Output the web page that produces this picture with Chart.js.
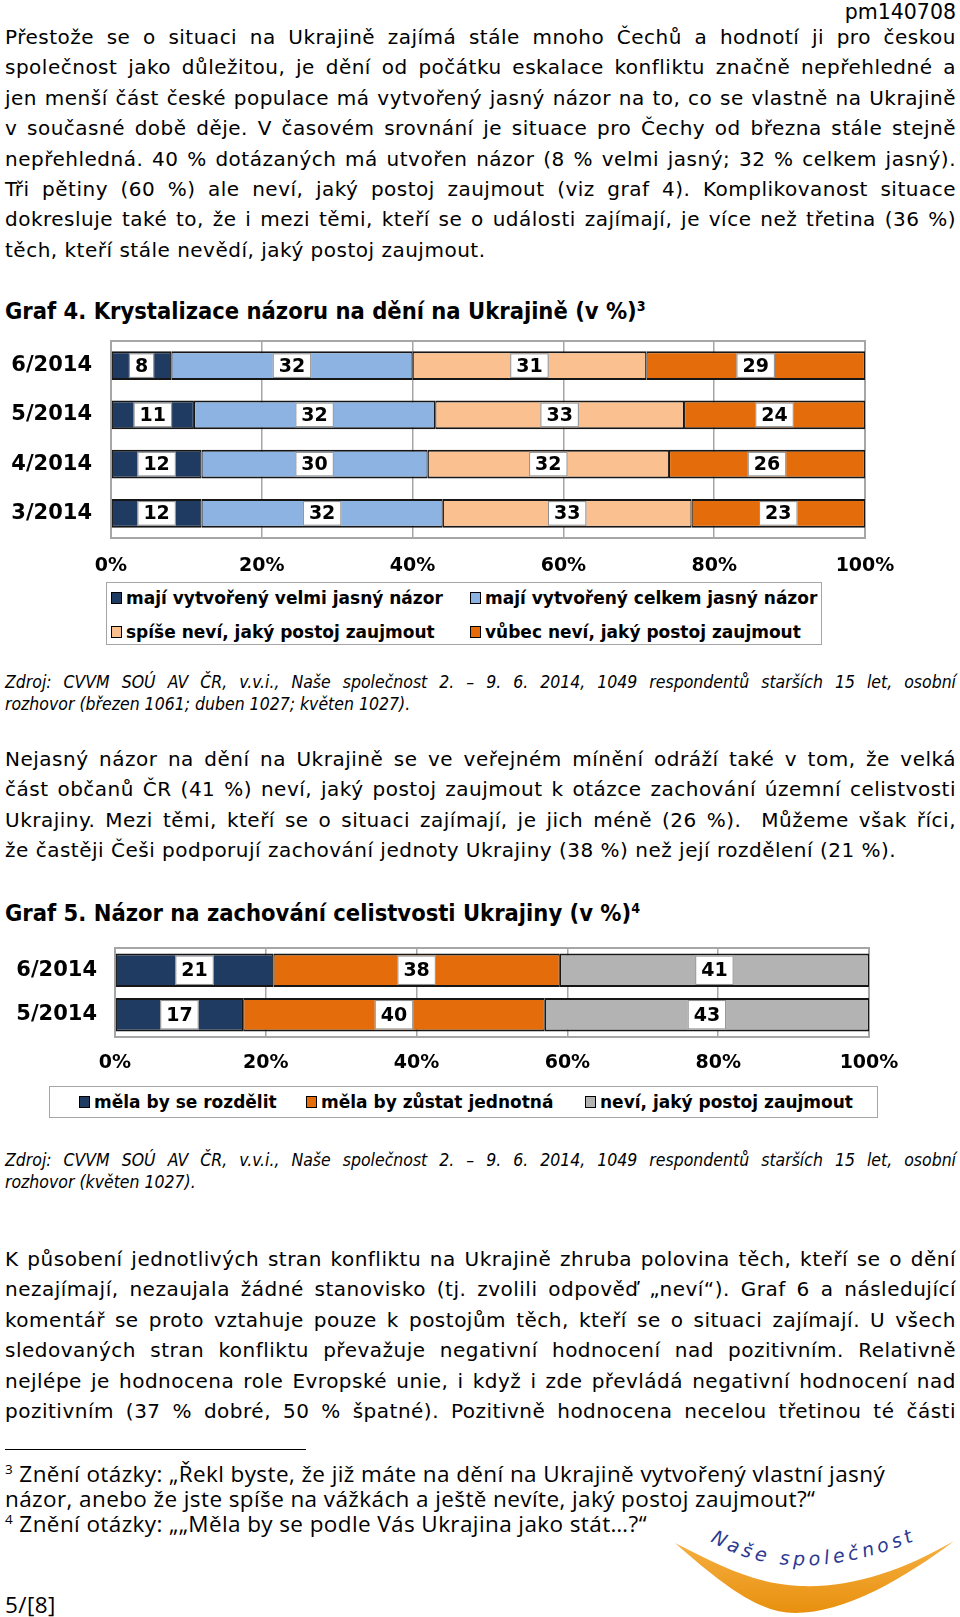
<!DOCTYPE html>
<html lang="cs">
<head>
<meta charset="utf-8">
<script src="https://cdn.jsdelivr.net/npm/chart.js@4.4.1/dist/chart.umd.min.js"></script>
<style>
  body { margin: 0; width: 960px; height: 1617px; position: relative; overflow: hidden; background: #fff; color: #000; font-family: "DejaVu Sans", Verdana, sans-serif; }
  .abs { position: absolute; }
  .txt { left: 5px; width: 951px; font-size: 20px; letter-spacing: 0.5px; }
  .txt div { height: 30.4px; line-height: 30.4px; white-space: nowrap; }
  .txt div.j { text-align: justify; text-align-last: justify; white-space: normal; }
  .nadpis { left: 5px; font-family: "DejaVu Sans Condensed", "DejaVu Sans", sans-serif; font-weight: bold; font-size: 23.5px; line-height: 30px; }
  .nadpis sup, .pozn sup { font-size: 0.6em; line-height: 0; vertical-align: 0.6em; }
  .zdroj { left: 5px; width: 951px; font-family: "DejaVu Sans Condensed", "DejaVu Sans", sans-serif; font-style: italic; font-size: 17.5px; }
  .zdroj div { height: 21.5px; line-height: 21.5px; white-space: nowrap; }
  .zdroj div.j { text-align: justify; text-align-last: justify; white-space: normal; }
  .pozn { left: 5px; font-family: "Open Sans", sans-serif; font-size: 22.5px; letter-spacing: 0.4px; }
  .pozn div { height: 25.2px; line-height: 25.2px; white-space: nowrap; }
  .legenda { border: 1.5px solid #a6a6a6; box-sizing: border-box; background: #fff; font-weight: bold; font-size: 17px; }
  .legenda .pol { position: absolute; display: flex; align-items: center; white-space: nowrap; transform: translateY(-50%); }
  .legenda .zn { width: 9px; height: 10px; border: 1px solid #000; margin-right: 4px; }
</style>
</head>
<body>

<div class="abs" style="right:4px;top:0;font-size:20.5px;line-height:24px;">pm140708</div>

<div class="abs txt" style="top:22px;">
  <div class="j">Přestože se o situaci na Ukrajině zajímá stále mnoho Čechů a hodnotí ji pro českou</div>
  <div class="j">společnost jako důležitou, je dění od počátku eskalace konfliktu značně nepřehledné a</div>
  <div class="j">jen menší část české populace má vytvořený jasný názor na to, co se vlastně na Ukrajině</div>
  <div class="j">v současné době děje. V časovém srovnání je situace pro Čechy od března stále stejně</div>
  <div class="j">nepřehledná. 40 % dotázaných má utvořen názor (8 % velmi jasný; 32 % celkem jasný).</div>
  <div class="j">Tři pětiny (60 %) ale neví, jaký postoj zaujmout (viz graf 4). Komplikovanost situace</div>
  <div class="j">dokresluje také to, že i mezi těmi, kteří se o události zajímají, je více než třetina (36 %)</div>
  <div>těch, kteří stále nevědí, jaký postoj zaujmout.</div>
</div>

<div class="abs nadpis" style="top:296px;">Graf 4. Krystalizace názoru na dění na Ukrajině (v %)<sup>3</sup></div>

<canvas id="graf4" class="abs" style="left:0;top:330px;" width="960" height="250"></canvas>
<div id="leg4" class="abs legenda" style="left:106px;top:582px;width:716px;height:63px;"></div>

<div class="abs zdroj" style="top:672px;">
  <div class="j">Zdroj: CVVM SOÚ AV ČR, v.v.i., Naše společnost 2. – 9. 6. 2014, 1049 respondentů starších 15 let, osobní</div>
  <div>rozhovor (březen 1061; duben 1027; květen 1027).</div>
</div>

<div class="abs txt" style="top:744px;">
  <div class="j">Nejasný názor na dění na Ukrajině se ve veřejném mínění odráží také v tom, že velká</div>
  <div class="j">část občanů ČR (41 %) neví, jaký postoj zaujmout k otázce zachování územní celistvosti</div>
  <div class="j">Ukrajiny. Mezi těmi, kteří se o situaci zajímají, je jich méně (26 %).&nbsp; Můžeme však říci,</div>
  <div>že častěji Češi podporují zachování jednoty Ukrajiny (38 %) než její rozdělení (21 %).</div>
</div>

<div class="abs nadpis" style="top:898px;">Graf 5. Názor na zachování celistvosti Ukrajiny (v %)<sup>4</sup></div>

<canvas id="graf5" class="abs" style="left:0;top:940px;" width="960" height="140"></canvas>
<div id="leg5" class="abs legenda" style="left:49px;top:1086px;width:829px;height:32px;"></div>

<div class="abs zdroj" style="top:1150px;">
  <div class="j">Zdroj: CVVM SOÚ AV ČR, v.v.i., Naše společnost 2. – 9. 6. 2014, 1049 respondentů starších 15 let, osobní</div>
  <div>rozhovor (květen 1027).</div>
</div>

<div class="abs txt" style="top:1244px;">
  <div class="j">K působení jednotlivých stran konfliktu na Ukrajině zhruba polovina těch, kteří se o dění</div>
  <div class="j">nezajímají, nezaujala žádné stanovisko (tj. zvolili odpověď „neví“). Graf 6 a následující</div>
  <div class="j">komentář se proto vztahuje pouze k postojům těch, kteří se o situaci zajímají. U všech</div>
  <div class="j">sledovaných stran konfliktu převažuje negativní hodnocení nad pozitivním. Relativně</div>
  <div class="j">nejlépe je hodnocena role Evropské unie, i když i zde převládá negativní hodnocení nad</div>
  <div class="j">pozitivním (37 % dobré, 50 % špatné). Pozitivně hodnocena necelou třetinou té části</div>
</div>

<div class="abs" style="left:5px;top:1449px;width:301px;height:1px;background:#000;"></div>
<div class="abs pozn" style="top:1461px;">
  <div><sup>3</sup> Znění otázky: „Řekl byste, že již máte na dění na Ukrajině vytvořený vlastní jasný</div>
  <div>názor, anebo že jste spíše na vážkách a ještě nevíte, jaký postoj zaujmout?“</div>
  <div><sup>4</sup> Znění otázky: „„Měla by se podle Vás Ukrajina jako stát…?“</div>
</div>
<div class="abs pozn" style="top:1593px;line-height:24px;">5/[8]</div>

<svg class="abs" style="left:660px;top:1515px;" width="300" height="102" viewBox="660 1515 300 102">
  <defs>
    <linearGradient id="oranz" x1="0" y1="0" x2="0" y2="1">
      <stop offset="0" stop-color="#f5b041"/>
      <stop offset="1" stop-color="#e8900f"/>
    </linearGradient>
    <path id="oblouk" d="M710,1541 Q800,1594 935,1532"/>
  </defs>
  <path d="M675,1543 C725,1587 760,1613 795,1613 C845,1613 905,1578 954,1541 C900,1572 850,1588 800,1586 C755,1584 720,1566 675,1543 Z" fill="url(#oranz)"/>
  <text font-family="DejaVu Sans, sans-serif" font-style="italic" font-size="19" fill="#2b3990" letter-spacing="4">
    <textPath href="#oblouk">Naše společnost</textPath>
  </text>
</svg>

<script>
// data grafu 4
const mesice4 = ['6/2014', '5/2014', '4/2014', '3/2014']
const velmiJasny = [8, 11, 12, 12]
const celkemJasny = [32, 32, 30, 32]
const spiseNevi = [31, 33, 32, 33]
const vubecNevi = [29, 24, 26, 23]
const popisky4 = ['mají vytvořený velmi jasný názor', 'mají vytvořený celkem jasný názor',
  'spíše neví, jaký postoj zaujmout', 'vůbec neví, jaký postoj zaujmout']

// data grafu 5
const mesice5 = ['6/2014', '5/2014']
const rozdelit = [21, 17]
const jednotna = [38, 40]
const nevi = [41, 43]
const popisky5 = ['měla by se rozdělit', 'měla by zůstat jednotná', 'neví, jaký postoj zaujmout']

const osaX = [0, 20, 40, 60, 80, 100]

const barvy4 = ['#1f3b62', '#8db3e2', '#fac090', '#e46c0a']
const barvy5 = ['#1f3b62', '#e46c0a', '#b3b3b3']

const pismo = '"DejaVu Sans", Verdana, sans-serif'

// ramecek kolem plochy grafu
const ramecek = {
  id: 'ramecek',
  beforeDatasetsDraw(chart) {
    const { ctx, chartArea: a } = chart
    ctx.save()
    ctx.strokeStyle = '#a6a6a6'
    ctx.lineWidth = 2
    ctx.strokeRect(a.left, a.top, a.right - a.left, a.bottom - a.top)
    ctx.restore()
  }
}

// bile stitky s hodnotami uprostred segmentu
const stitky = {
  id: 'stitky',
  afterDatasetsDraw(chart) {
    const { ctx } = chart
    ctx.save()
    ctx.font = 'bold 19px ' + pismo
    ctx.textAlign = 'center'
    ctx.textBaseline = 'middle'
    chart.data.datasets.forEach((ds, i) => {
      chart.getDatasetMeta(i).data.forEach((bar, j) => {
        const { x, y, base, height } = bar.getProps(['x', 'y', 'base', 'height'], true)
        const txt = String(ds.data[j])
        const w = ctx.measureText(txt).width + 12
        const h = height - 4
        const cx = (x + base) / 2
        ctx.fillStyle = '#fff'
        ctx.fillRect(cx - w / 2, y - h / 2, w, h)
        ctx.strokeStyle = '#8c8c8c'
        ctx.lineWidth = 1
        ctx.strokeRect(cx - w / 2 + 0.5, y - h / 2 + 0.5, w - 1, h - 1)
        ctx.fillStyle = '#000'
        ctx.fillText(txt, cx, y + 1)
      })
    })
    ctx.restore()
  }
}

function sada(label, data, barva) {
  return {
    label, data,
    backgroundColor: barva,
    borderColor: '#161616',
    borderWidth: { top: 2, bottom: 2, left: 1.2, right: 1.2 },
    borderSkipped: false
  }
}

function moznosti(sirkaY, vyskaX, padY, padX, horni, pravy, tloustka) {
  return {
    indexAxis: 'y',
    responsive: false,
    animation: false,
    layout: { padding: { top: horni, right: pravy, left: 0, bottom: 0 } },
    datasets: { bar: { categoryPercentage: 1, barPercentage: tloustka } },
    plugins: { legend: { display: false }, tooltip: { enabled: false } },
    scales: {
      x: {
        stacked: true, min: 0, max: 100,
        afterBuildTicks: s => { s.ticks = osaX.map(v => ({ value: v })) },
        afterFit: s => { s.height = vyskaX },
        ticks: { callback: v => v + '%', color: '#000', padding: padX, maxRotation: 0,
          font: { family: pismo, size: 19, weight: 'bold' } },
        grid: { color: '#a6a6a6', lineWidth: 1.5, drawTicks: false },
        border: { display: false }
      },
      y: {
        stacked: true,
        afterFit: s => { s.width = sirkaY; s.paddingTop = 0; s.paddingBottom = 0 },
        ticks: { color: '#000', padding: padY, font: { family: pismo, size: 21, weight: 'bold' } },
        grid: { display: false, drawTicks: false },
        border: { display: false }
      }
    }
  }
}

const graf4 = new Chart(document.getElementById('graf4'), {
  type: 'bar',
  data: {
    labels: mesice4,
    datasets: [
      sada(popisky4[0], velmiJasny, barvy4[0]),
      sada(popisky4[1], celkemJasny, barvy4[1]),
      sada(popisky4[2], spiseNevi, barvy4[2]),
      sada(popisky4[3], vubecNevi, barvy4[3])
    ]
  },
  options: moznosti(111, 42, 19, 17, 11, 95, 0.58),
  plugins: [ramecek, stitky]
})

const graf5 = new Chart(document.getElementById('graf5'), {
  type: 'bar',
  data: {
    labels: mesice5,
    datasets: [
      sada(popisky5[0], rozdelit, barvy5[0]),
      sada(popisky5[1], jednotna, barvy5[1]),
      sada(popisky5[2], nevi, barvy5[2])
    ]
  },
  options: moznosti(115, 43, 18, 15, 8, 91, 0.75),
  plugins: [ramecek, stitky]
})

// legenda jako html, poskladana z datasetu grafu
function legenda(chart, el, pozice) {
  chart.data.datasets.forEach((ds, i) => {
    const pol = document.createElement('div')
    pol.className = 'pol'
    pol.style.left = pozice[i][0] + 'px'
    pol.style.top = pozice[i][1] + 'px'
    const zn = document.createElement('span')
    zn.className = 'zn'
    zn.style.background = ds.backgroundColor
    pol.appendChild(zn)
    pol.appendChild(document.createTextNode(ds.label))
    el.appendChild(pol)
  })
}

legenda(graf4, document.getElementById('leg4'), [[4, 15], [363, 15], [4, 49], [363, 49]])
legenda(graf5, document.getElementById('leg5'), [[29, 15], [256, 15], [535, 15]])
</script>
</body>
</html>
